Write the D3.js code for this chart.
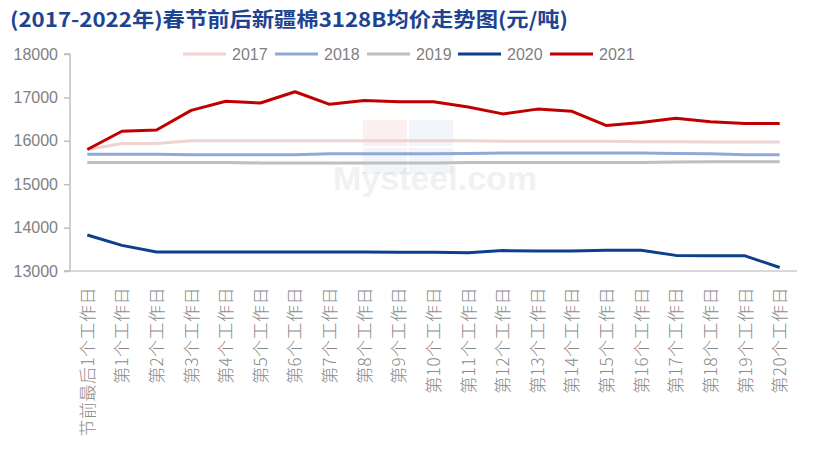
<!DOCTYPE html>
<html><head><meta charset="utf-8">
<script src="https://cdn.jsdelivr.net/npm/d3@7"></script>
<style>body{margin:0;background:#fff;} svg{display:block;}</style>
</head><body>
<svg id="c" width="816" height="461"></svg>
<script>
const categories = ["节前最后1个工作日","第1个工作日","第2个工作日","第3个工作日","第4个工作日","第5个工作日","第6个工作日","第7个工作日","第8个工作日","第9个工作日","第10个工作日","第11个工作日","第12个工作日","第13个工作日","第14个工作日","第15个工作日","第16个工作日","第17个工作日","第18个工作日","第19个工作日","第20个工作日"];
const years = ["2017","2018","2019","2020","2021"];
const v2017 = [15800,15940,15940,16000,16000,16000,16000,16000,16000,16000,16000,16000,15990,15990,15990,15990,15980,15980,15970,15970,15970];
const v2018 = [15690,15690,15690,15680,15680,15680,15680,15700,15700,15700,15700,15710,15720,15720,15720,15720,15720,15710,15700,15680,15680];
const v2019 = [15500,15500,15500,15500,15500,15490,15490,15490,15490,15490,15490,15500,15500,15500,15500,15500,15500,15510,15520,15520,15520];
const v2020 = [13830,13590,13440,13440,13440,13440,13440,13440,13440,13430,13430,13420,13470,13460,13460,13480,13480,13360,13350,13350,13080];
const v2021 = [15800,16220,16250,16700,16910,16870,17130,16840,16930,16900,16900,16780,16620,16730,16680,16350,16420,16520,16440,16400,16400];
const yTicks = [13000,14000,15000,16000,17000,18000];
const title = "(2017-2022年)春节前后新疆棉3128B均价走势图(元/吨)";

const seriesValues = [v2017, v2018, v2019, v2020, v2021];
const colors = ["#EFD3D3","#8EA9D8","#BFBFBF","#0C3F8D","#C00000"];

const svg = d3.select("#c");
const L = 70, R = 797, T = 54, B = 271;

const x = d3.scalePoint().domain(categories).range([L, R]).padding(0.5);
const y = d3.scaleLinear().domain([13000, 18000]).range([B, T]);

// title
svg.append("text").attr("x", 10).attr("y", 27)
  .attr("font-family", "'Noto Sans CJK SC', sans-serif").attr("font-weight", "bold")
  .attr("font-size", 20).attr("fill", "#1D4391")
  .attr("textLength", 558).attr("lengthAdjust", "spacingAndGlyphs")
  .text(title);

// watermark
const wm = svg.append("g").attr("opacity", 0.06);
const logoChars = ["我","的","钢","铁"];
const logoCol = ["#d00000","#3d62a8","#3d62a8","#3d62a8"];
logoChars.forEach((c, i) => {
  const gx = 363 + (i % 2) * 46, gy = 120 + Math.floor(i / 2) * 28;
  wm.append("rect").attr("x", gx).attr("y", gy).attr("width", 44).attr("height", 26).attr("fill", logoCol[i]);
});
svg.append("text").attr("x", 333).attr("y", 190)
  .attr("font-family", "'Liberation Sans', Arial, sans-serif").attr("font-weight", "bold")
  .attr("font-size", 34).attr("fill", "#000").attr("opacity", 0.05)
  .text("Mysteel.com");

// y axis
const yAxis = d3.axisLeft(y).tickValues(yTicks).tickSize(6).tickPadding(6).tickFormat(d3.format("d"));
const gy = svg.append("g").attr("transform", `translate(${L},0)`).call(yAxis);
gy.select(".domain").attr("stroke", "#BFBFBF").attr("stroke-width", 1.5).attr("d", `M-6,${T}H0V${B}H-6`);
gy.selectAll(".tick line").attr("stroke", "#BFBFBF").attr("stroke-width", 1.5);
gy.selectAll(".tick text").attr("fill", "#7F7F7F").attr("font-size", 16)
  .attr("font-family", "'Liberation Sans', Arial, sans-serif");

// x axis
const xAxis = d3.axisBottom(x).tickSize(0).tickPadding(0);
const gx = svg.append("g").attr("transform", `translate(0,${B})`).call(xAxis);
gx.select(".domain").attr("stroke", "#D9D9D9").attr("stroke-width", 2).attr("d", `M${L},0H${R}`);
gx.selectAll(".tick text")
  .attr("fill", "#8A8A8A").attr("font-size", 17).attr("letter-spacing", 0.5)
  .attr("font-family", "'Noto Sans CJK SC', sans-serif").attr("font-weight", 300)
  .attr("text-anchor", "end")
  .attr("transform", "translate(0,16) rotate(-90)")
  .attr("x", 0).attr("y", 0).attr("dy", "0.35em");

// lines
const line = d3.line().x((d, i) => x(categories[i])).y(d => y(d));
seriesValues.forEach((vals, k) => {
  svg.append("path").datum(vals).attr("d", line)
    .attr("fill", "none").attr("stroke", colors[k]).attr("stroke-width", 3)
    .attr("stroke-linejoin", "round");
});

// legend
const legendX = [183, 275, 367, 458, 550];
const lg = svg.append("g");
years.forEach((yr, k) => {
  lg.append("line").attr("x1", legendX[k]).attr("x2", legendX[k] + 43)
    .attr("y1", 54).attr("y2", 54).attr("stroke", colors[k]).attr("stroke-width", 3);
  lg.append("text").attr("x", legendX[k] + 49).attr("y", 60)
    .attr("font-family", "'Liberation Sans', Arial, sans-serif").attr("font-size", 16)
    .attr("fill", "#7F7F7F").text(yr);
});
</script>
</body></html>
